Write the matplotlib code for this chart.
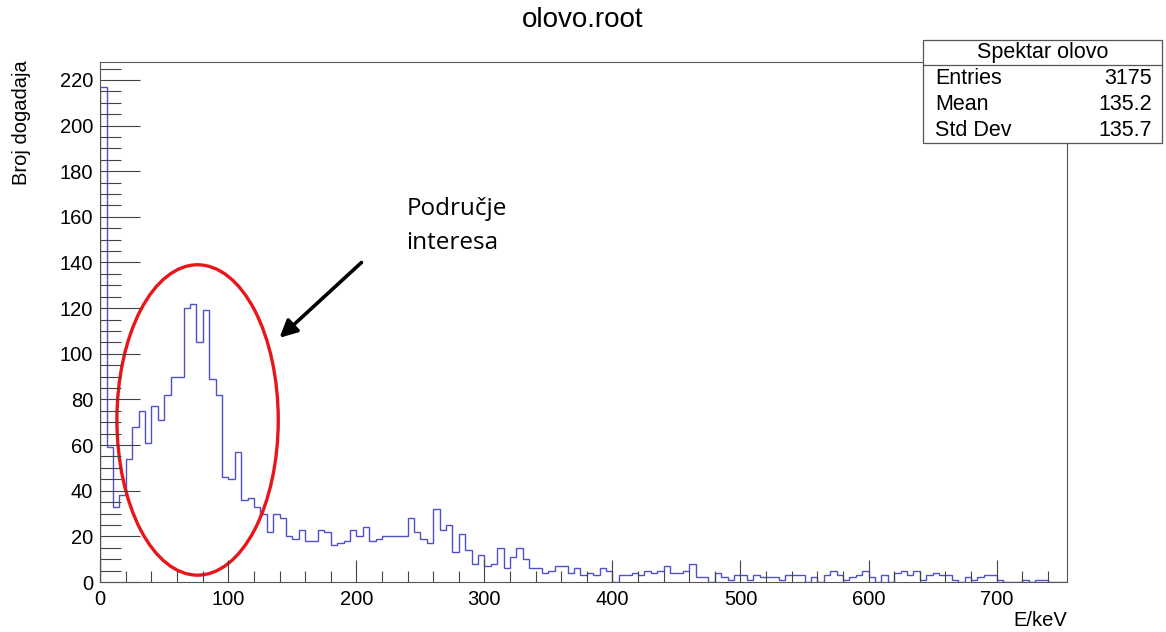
import matplotlib.pyplot as plt
import numpy as np
from matplotlib.patches import Ellipse, Rectangle

# Energy spectrum, 5 keV bins starting at 0
bin_width = 5
counts = [
    217, 59, 33, 38, 54, 68, 75, 61, 77, 71, 82, 90, 90, 120, 122, 105, 119, 89, 82, 46,
    45, 57, 36, 37, 33, 30, 22, 30, 28, 20, 19, 23, 18, 18, 23, 22, 16, 17, 18, 23,
    20, 24, 18, 19, 20, 20, 20, 20, 28, 22, 19, 17, 32, 23, 25, 13, 21, 14, 8, 12,
    7, 8, 15, 6, 11, 15, 10, 6, 6, 4, 5, 7, 7, 4, 6, 3, 4, 3, 6, 5,
    0, 3, 3, 4, 3, 5, 4, 5, 7, 4, 4, 5, 8, 2, 2, 0, 4, 2, 1, 3,
    3, 1, 3, 2, 2, 2, 1, 3, 3, 3, 0, 2, 0, 3, 5, 3, 1, 2, 3, 5,
    2, 0, 3, 0, 4, 5, 3, 5, 1, 3, 4, 3, 3, 1, 0, 2, 1, 2, 3, 3,
    1, 0, 0, 0, 1, 0, 1, 1, 0, 0, 0,
]

hist_name = "Spektar olovo"
stat_names = ["Entries", "Mean", "Std Dev"]
stat_values = ["3175", "135.2", "135.7"]

# region of interest marked on the spectrum (keV, counts)
roi_center = (76, 71)
roi_size = (126, 136)
arrow_tail = (204, 140)
arrow_head = (140, 107)
note_pos = (239, 156)
note_text = "Područje\ninteresa"

plt.rcParams["font.family"] = ["Liberation Sans", "DejaVu Sans"]

edges = np.arange(len(counts) + 1) * bin_width

fig = plt.figure(figsize=(11.66, 6.32), dpi=100)
ax = fig.add_axes([0.0860, 0.0791, 0.8291, 0.8228])

ax.stairs(counts, edges, color="#5050c8", lw=1.0)

ax.set_xlim(0, edges[-1])
ax.set_ylim(0, 1.05 * max(counts))
ax.set_xticks(np.arange(0, 701, 100))
ax.set_xticks(np.arange(0, edges[-1], 20), minor=True)
ax.set_yticks(np.arange(0, 221, 20))
ax.set_yticks(np.arange(0, 226, 5), minor=True)

ax.tick_params(axis="both", which="both", direction="in", labelsize=14.5, color="#444444")
ax.tick_params(axis="y", which="major", length=29, width=0.8, pad=5)
ax.tick_params(axis="y", which="minor", length=15, width=0.8)
ax.tick_params(axis="x", which="major", length=15.5, width=0.8, pad=6)
ax.tick_params(axis="x", which="minor", length=8, width=0.8)
for side in ax.spines.values():
    side.set_color("#555555")
    side.set_linewidth(0.8)

# red ellipse around the low-energy peak, with arrow and note
ax.add_patch(Ellipse(roi_center, roi_size[0], roi_size[1], fill=False,
                     edgecolor="#e8161a", lw=2.4))
ax.annotate("", xy=arrow_head, xytext=arrow_tail,
            arrowprops=dict(arrowstyle="-|>", color="black", lw=2.6,
                            mutation_scale=26, shrinkA=0, shrinkB=0))
ax.text(note_pos[0], note_pos[1], note_text, ha="left", va="center",
        fontsize=17.5, family=["Open Sans", "DejaVu Sans"], linespacing=1.6)

fig.text(0.5, 1 - 20 / 632, "olovo.root", ha="center", va="center", fontsize=20)
fig.text(22 / 1166, 1 - 60 / 632, "Broj dogadaja", rotation=90,
         ha="center", va="top", fontsize=14.5)
fig.text(1067 / 1166, 1 - 620 / 632, "E/keV", ha="right", va="center", fontsize=14.5)

# statistics box
bx0, bx1 = 923 / 1166, 1162 / 1166
by0, by1 = 1 - 143 / 632, 1 - 40 / 632
sep = 1 - 65 / 632
fig.add_artist(Rectangle((bx0, by0), bx1 - bx0, by1 - by0, transform=fig.transFigure,
                         facecolor="white", edgecolor="#555555", lw=0.9, zorder=5))
fig.add_artist(plt.Line2D([bx0, bx1], [sep, sep], transform=fig.transFigure,
                          color="#555555", lw=0.9, zorder=6))
fig.text((bx0 + bx1) / 2, (sep + by1) / 2, hist_name, ha="center", va="center",
         fontsize=15.5, zorder=7)
row_h = (sep - by0) / len(stat_names)
for i, (name, val) in enumerate(zip(stat_names, stat_values)):
    yy = sep - (i + 0.5) * row_h
    fig.text(935 / 1166, yy, name, ha="left", va="center", fontsize=15.5, zorder=7)
    fig.text(1152 / 1166, yy, val, ha="right", va="center", fontsize=15.5, zorder=7)

fig.savefig("out.png", dpi=100, facecolor="white")
